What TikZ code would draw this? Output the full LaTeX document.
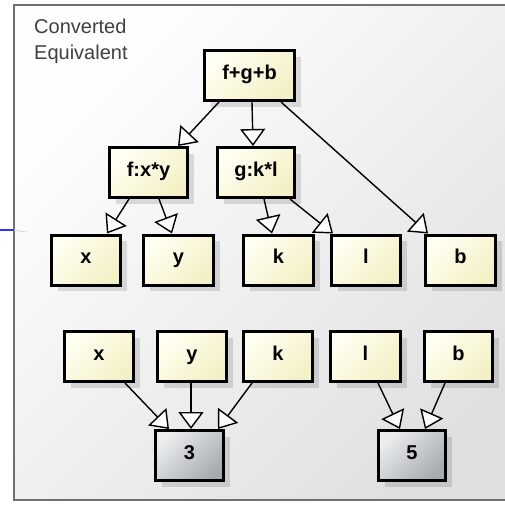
\documentclass[tikz,border=0pt]{standalone}
\usepackage{fontspec}
\setmainfont{Liberation Sans}
\usetikzlibrary{arrows.meta,shadows}
\definecolor{ylight}{HTML}{FFFFF2}
\definecolor{ydark}{HTML}{F4F0C6}
\definecolor{glight}{HTML}{EBEDEE}
\definecolor{gdark}{HTML}{A6ACB0}
\definecolor{bglight}{HTML}{FEFEFE}
\definecolor{bgdark}{HTML}{E0E0E0}
\definecolor{framegray}{HTML}{707070}
\definecolor{titlegray}{HTML}{404040}
\definecolor{linkblue}{HTML}{3333EE}
\begin{document}
\begin{tikzpicture}[x=1pt,y=-1pt,
  box/.style={draw=black, line width=3pt, inner sep=0pt, minimum width=70pt, minimum height=50pt,
    text height=11pt, text depth=4pt, font=\fontsize{20}{24}\selectfont\bfseries,
    drop shadow={shadow xshift=6pt, shadow yshift=-6pt, fill=black, opacity=0.12}},
  ybox/.style={box, top color=ylight, bottom color=ydark, shading angle=45},
  gbox/.style={box, top color=glight, bottom color=gdark, shading angle=45},
  arr/.style={line width=1.4pt, -{Triangle[length=17pt,width=25pt,fill=white,line width=1.4pt]}}]
\useasboundingbox (0,0) rectangle (505,504);
\clip (0,0) rectangle (505,504);
\fill[white] (0,0) rectangle (505,504);
% frame
\draw[framegray, line width=1.2pt, top color=bglight, bottom color=bgdark, shading angle=45] (14,5) rectangle (540,500);
% link line at the left
\coordinate (lk1) at (0,230);
\coordinate (lk2) at (14,230);
\coordinate (lk3) at (26,232);
\draw[linkblue, line width=2pt] (lk1) -- (lk2);
\draw[black!15, line width=1pt] (lk2) -- (lk3);
% title
\node[anchor=north west, inner sep=0pt, align=left, text=titlegray, font=\fontsize{20}{26}\selectfont] (title) at (34,18.4) {Converted\\Equivalent};
% tree
\node[ybox, minimum width=90pt] (top) at (249.5,75.5) {f+g+b};
\node[ybox, minimum width=78pt] (fxy) at (148.5,172.5) {f:x*y};
\node[ybox, minimum width=77pt] (gkl) at (256,172.5) {g:k*l};
\node[ybox, minimum width=69pt] (x2) at (86,260) {x};
\node[ybox] (y2) at (178.5,260) {y};
\node[ybox] (k2) at (278.5,260) {k};
\node[ybox, minimum width=69pt] (l2) at (366,260) {l};
\node[ybox] (b2) at (460.5,260) {b};
% lower rows
\node[ybox, minimum width=69pt] (x3) at (99,356.5) {x};
\node[ybox, minimum width=69pt] (y3) at (192,356.5) {y};
\node[ybox, minimum width=69pt] (k3) at (278,356.5) {k};
\node[ybox] (l3) at (365.5,356.5) {l};
\node[ybox, minimum width=68pt] (b3) at (458.5,356.5) {b};
\node[gbox, minimum width=68pt] (n3) at (189.5,455.5) {3};
\node[gbox, minimum width=67pt] (n5) at (412,455.5) {5};
% connectors
\draw[arr] ([xshift=-30.5pt]top.south) -- ([xshift=29.5pt]fxy.north);
\draw[arr] ([xshift=2.5pt]top.south) -- ([xshift=-3pt]gkl.north);
\draw[arr] ([xshift=31.5pt]top.south) -- ([xshift=-32.5pt]b2.north);
\draw[arr] ([xshift=-19.5pt]fxy.south) -- ([xshift=21pt]x2.north);
\draw[arr] ([xshift=10.5pt]fxy.south) -- ([xshift=-6.5pt]y2.north);
\draw[arr] ([xshift=8pt]gkl.south) -- ([xshift=-6.5pt]k2.north);
\draw[arr] ([xshift=34pt]gkl.south) -- ([xshift=-33pt]l2.north);
\draw[arr] ([xshift=26pt]x3.south) -- ([xshift=-20.5pt]n3.north);
\draw[arr] ([xshift=-1pt]y3.south) -- ([xshift=1.5pt]n3.north);
\draw[arr] ([xshift=-26pt]k3.south) -- ([xshift=28.5pt]n3.north);
\draw[arr] ([xshift=12.5pt]l3.south) -- ([xshift=-12pt]n5.north);
\draw[arr] ([xshift=-13.5pt]b3.south) -- ([xshift=13pt]n5.north);
\end{tikzpicture}
\end{document}
